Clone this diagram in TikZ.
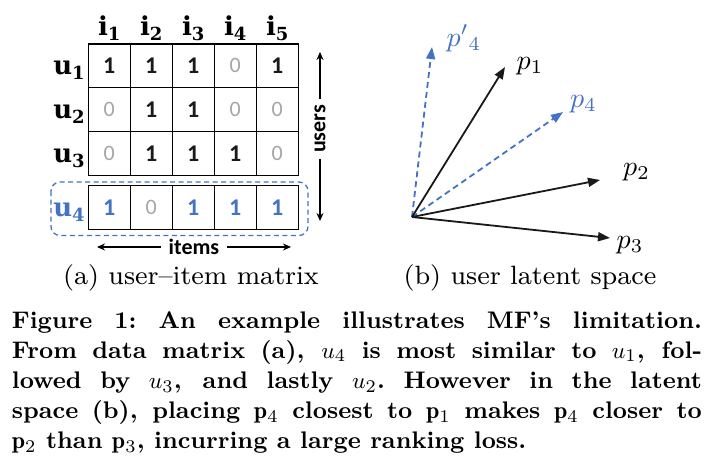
\documentclass[tikz,border=0pt]{standalone}
\usepackage{fontspec}
\usepackage{graphicx}
\usetikzlibrary{arrows.meta}
\newfontfamily\calfont{Carlito}
\newfontfamily\hdrfont{DejaVu Serif}
\definecolor{ublue}{HTML}{4472C4}
\definecolor{zgray}{HTML}{A6A6A6}
\definecolor{dgray}{HTML}{1A1A1A}
\newcommand\capline[1]{\scalebox{2.553}{\fontsize{9.4}{11}\selectfont\bfseries\makebox[270.3pt][s]{#1}}}
\newcommand\lastline[1]{\scalebox{2.553}{\fontsize{9.4}{11}\selectfont\bfseries #1}}
\newcommand\subcap[1]{\scalebox{3.31}{\fontsize{8}{10}\selectfont #1}}
\newcommand\hdr[2]{{\hdrfont\bfseries\fontsize{26}{26}\selectfont #1\raisebox{-5pt}{\fontsize{18}{18}\selectfont #2}}}
\newcommand\one{\textbf{1}}
\newcommand\zer{\textcolor{zgray}{\fontsize{22}{22}\selectfont 0}}
\newcommand\plbl[1]{\scalebox{2.8}{\fontsize{10}{10}\selectfont $#1$}}
\begin{document}
\begin{tikzpicture}[x=1pt,y=-1pt,
  cell/.style={draw=black, line width=1.2pt, minimum width=42pt, minimum height=43.7pt, inner sep=0pt, text=dgray, font=\calfont\fontsize{24}{24}\selectfont},
  lbl/.style={anchor=base, inner sep=0pt},
  side/.style={font=\calfont\bfseries\fontsize{22}{22}\selectfont, inner xsep=6pt, inner ysep=0pt},
  arr/.style={line width=1.5pt, -{Stealth[length=8pt,width=7pt]}},
  vec/.style={line width=1.8pt, black!90, -{Triangle[length=12pt,width=9pt]}},
  dvec/.style={vec, ublue, dash pattern=on 6pt off 4pt},
  plab/.style={anchor=base west, inner sep=0pt},
]
\useasboundingbox[fill=white] (0,0) rectangle (710,466);

% column labels
\foreach \j/\x in {1/109.3,2/151.3,3/193.3,4/235.3,5/277.3}
  \node[lbl] (col\j) at (\x,35) {\hdr{i}{\j}};

% matrix rows 1-3
\foreach \r/\y/\a/\b/\c/\d/\e in {1/65.85/\one/\one/\one/\zer/\one, 2/109.55/\zer/\one/\one/\zer/\zer, 3/153.25/\zer/\one/\one/\one/\zer}{
  \node[cell] (c\r1) at (109.3,\y) {\a};
  \node[cell] (c\r2) at (151.3,\y) {\b};
  \node[cell] (c\r3) at (193.3,\y) {\c};
  \node[cell] (c\r4) at (235.3,\y) {\d};
  \node[cell] (c\r5) at (277.3,\y) {\e};
  \node[lbl] (row\r) at (69,\y+9) {\hdr{u}{\r}};
}
% row 4
\node[cell, text=ublue] (c41) at (109.3,207.5) {\one};
\node[cell, text=ublue] (c42) at (151.3,207.5) {\zer};
\node[cell, text=ublue] (c43) at (193.3,207.5) {\one};
\node[cell, text=ublue] (c44) at (235.3,207.5) {\one};
\node[cell, text=ublue] (c45) at (277.3,207.5) {\one};
\node[lbl, text=ublue] (row4) at (69,216.5) {\hdr{u}{4}};

\draw[ublue, line width=1.3pt, dash pattern=on 5pt off 3.5pt, rounded corners=9pt] (51,182) rectangle (308,235.5);

% users / items
\node[side, rotate=90] (users) at (320,129) {users};
\coordinate (uTop) at (320,52);
\coordinate (uBot) at (320,221);
\draw[arr] (users) -- (uTop);
\draw[arr] (users) -- (uBot);
\node[side, inner xsep=8pt] (items) at (194,247) {items};
\coordinate (iL) at (97,247);
\coordinate (iR) at (291,247);
\draw[arr] (items) -- (iL);
\draw[arr] (items) -- (iR);

% latent space
\coordinate (o) at (412,217);
\coordinate (t1) at (505,67);
\coordinate (t2) at (600,180);
\coordinate (t3) at (610,238);
\coordinate (t4) at (563,112);
\coordinate (t4p) at (432,47);
\draw[dvec] (o) -- (t4p);
\draw[dvec] (o) -- (t4);
\draw[vec] (o) -- (t1);
\draw[vec] (o) -- (t2);
\draw[vec] (o) -- (t3);
\node[plab, text=ublue] (l4p) at (446.5,46) {\plbl{p'{}_4}};
\node[plab] (l1) at (516.5,69.3) {\plbl{p_1}};
\node[plab, text=ublue] (l4) at (570,107.7) {\plbl{p_4}};
\node[plab] (l2) at (623,175.7) {\plbl{p_2}};
\node[plab] (l3) at (616.5,248) {\plbl{p_3}};

% sub-captions
\node[lbl] (capa) at (191,284) {\subcap{(a) user--item matrix}};
\node[lbl] (capb) at (530,284) {\subcap{(b) user latent space}};

% caption
\node[anchor=base west, inner sep=0pt] (cap1) at (11.7,328) {\capline{Figure 1:\ An example illustrates MF's limitation.}};
\node[anchor=base west, inner sep=0pt] (cap2) at (11.7,358.2) {\capline{From data matrix (a), $u_4$ is most similar to $u_1$, fol-}};
\node[anchor=base west, inner sep=0pt] (cap3) at (11.7,388.4) {\capline{lowed by $u_3$, and lastly $u_2$.\ However in the latent}};
\node[anchor=base west, inner sep=0pt] (cap4) at (11.7,418.6) {\capline{space (b), placing $\mathbf{p}_4$ closest to $\mathbf{p}_1$ makes $\mathbf{p}_4$ closer to}};
\node[anchor=base west, inner sep=0pt] (cap5) at (11.7,448.8) {\lastline{$\mathbf{p}_2$ than $\mathbf{p}_3$, incurring a large ranking loss.}};
\end{tikzpicture}
\end{document}
